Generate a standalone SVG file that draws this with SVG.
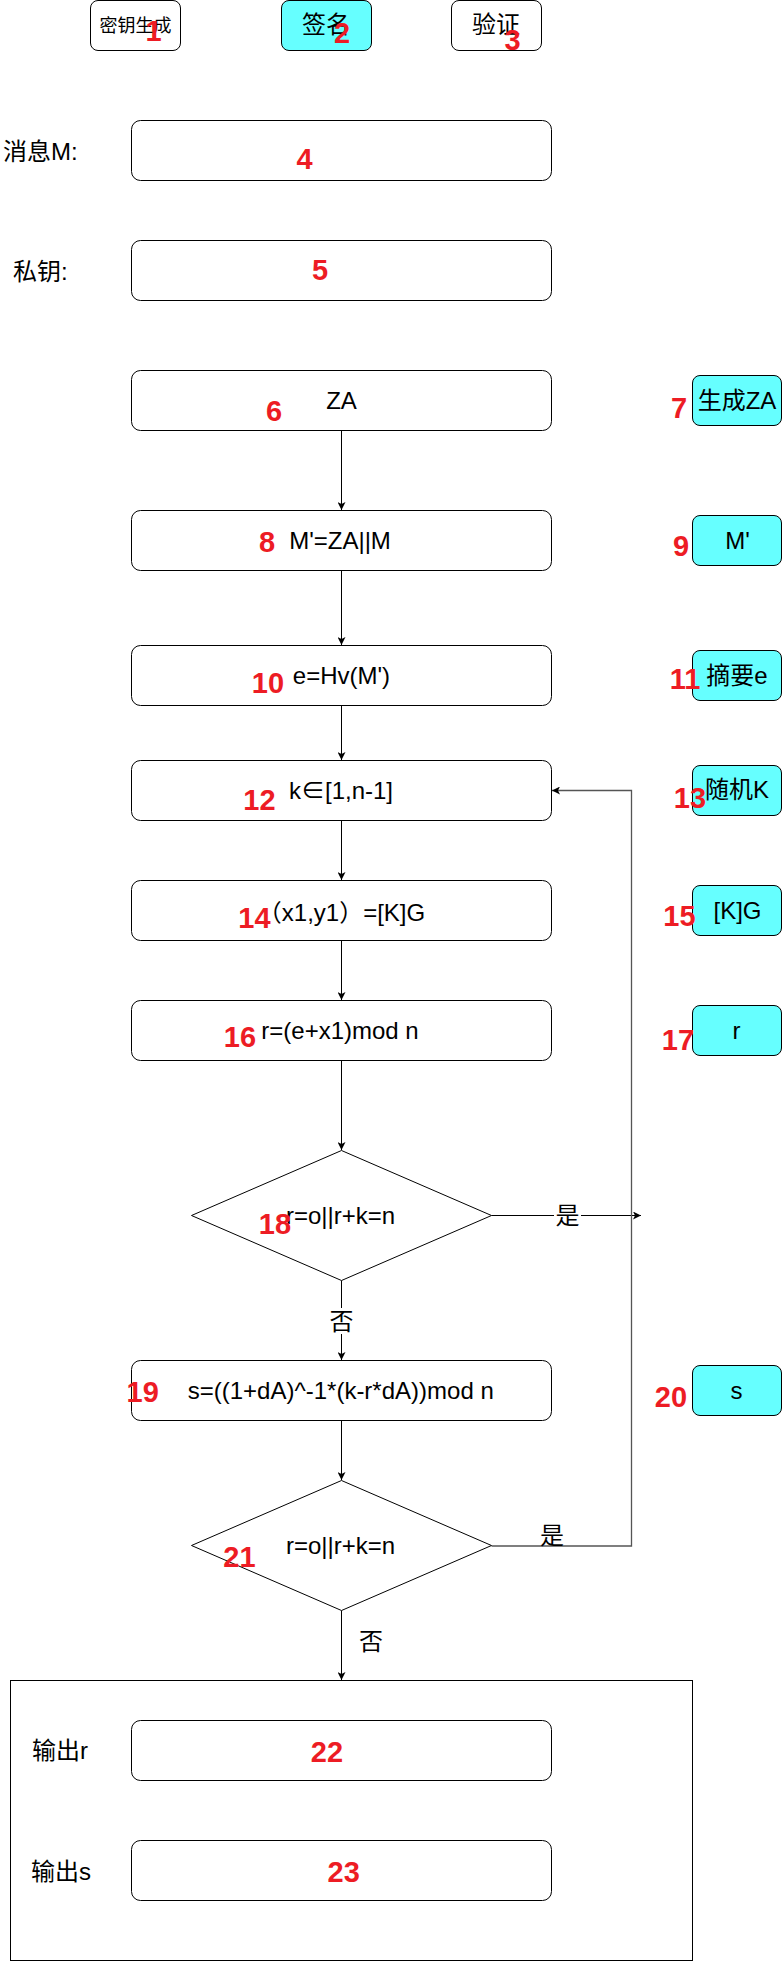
<svg xmlns="http://www.w3.org/2000/svg" width="782" height="1963" viewBox="0 0 782 1963">
<style>
.box{fill:#fff;stroke:#000;stroke-width:1}
.cy{fill:#66FFFF;stroke:#000;stroke-width:1}
.t{font-family:"Liberation Sans","Noto Sans CJK SC",sans-serif;font-size:24px;fill:#000;text-anchor:middle}
.ts{font-family:"Liberation Sans","Noto Sans CJK SC",sans-serif;font-size:18px;fill:#000;text-anchor:middle}
.lab{font-family:"Liberation Sans","Noto Sans CJK SC",sans-serif;font-size:24px;fill:#000;text-anchor:start}
.n{font-family:"Liberation Sans",sans-serif;font-weight:bold;font-size:29px;fill:#ED1C24;text-anchor:middle}
.c{fill:none;stroke:#000;stroke-width:1}
.loop{fill:none;stroke:#555;stroke-width:1.3}
</style>
<defs>
<marker id="ah" markerUnits="userSpaceOnUse" viewBox="0 0 8 8" refX="8" refY="4" markerWidth="8" markerHeight="8" orient="auto">
<path d="M0,0 L8,4 L0,8 L2,4 Z" fill="#000"/>
</marker>
</defs>
<rect width="782" height="1963" fill="#fff"/>

<g id="tab-keygen"><rect class="box" x="90.5" y="0.5" width="90" height="50" rx="7.5"/><text class="ts" x="135.5" y="31.5">密钥生成</text></g>
<g id="tab-sign"><rect class="cy" x="281.5" y="0.5" width="90" height="50" rx="7.5"/><text class="t" x="326" y="33">签名</text></g>
<g id="tab-verify"><rect class="box" x="451.5" y="0.5" width="90" height="50" rx="7.5"/><text class="t" x="496" y="33">验证</text></g>

<g id="label-msg"><text class="lab" x="3" y="160">消息M:</text></g>
<g id="input-msg"><rect class="box" x="131.5" y="120.5" width="420" height="60" rx="9"/></g>
<g id="label-key"><text class="lab" x="13" y="280">私钥:</text></g>
<g id="input-key"><rect class="box" x="131.5" y="240.5" width="420" height="60" rx="9"/></g>

<g id="connectors">
<path class="c" d="M341.5,430.5 V510" marker-end="url(#ah)"/>
<path class="c" d="M341.5,570.5 V645" marker-end="url(#ah)"/>
<path class="c" d="M341.5,705.5 V760" marker-end="url(#ah)"/>
<path class="c" d="M341.5,820.5 V880" marker-end="url(#ah)"/>
<path class="c" d="M341.5,940.5 V1000" marker-end="url(#ah)"/>
<path class="c" d="M341.5,1060.5 V1150" marker-end="url(#ah)"/>
<path class="c" d="M341.5,1280.5 V1360" marker-end="url(#ah)"/>
<path class="c" d="M341.5,1420.5 V1480" marker-end="url(#ah)"/>
<path class="c" d="M341.5,1610.5 V1680" marker-end="url(#ah)"/>
<path class="c" d="M491.5,1215.5 H641" marker-end="url(#ah)"/>
<path class="loop" d="M491.5,1546 H631.5 V790.5 H552" marker-end="url(#ah)"/>
<rect x="554" y="1203" width="27" height="26" fill="#fff"/>
<text class="t" x="567.5" y="1224">是</text>
<rect x="328" y="1308" width="27" height="26" fill="#fff"/>
<text class="t" x="341.5" y="1329.5">否</text>
<text class="t" x="552" y="1544">是</text>
<text class="t" x="371" y="1650">否</text>
</g>

<g id="step-za"><rect class="box" x="131.5" y="370.5" width="420" height="60" rx="9"/><text class="t" x="341.5" y="408.5">ZA</text></g>
<g id="tag-za"><rect class="cy" x="692.5" y="375.5" width="89" height="50" rx="7.5"/><text class="t" x="737" y="408.5">生成ZA</text></g>
<g id="step-m"><rect class="box" x="131.5" y="510.5" width="420" height="60" rx="9"/><text class="t" x="340" y="549">M'=ZA||M</text></g>
<g id="tag-m"><rect class="cy" x="692.5" y="515.5" width="89" height="50" rx="7.5"/><text class="t" x="737.5" y="549">M'</text></g>
<g id="step-e"><rect class="box" x="131.5" y="645.5" width="420" height="60" rx="9"/><text class="t" x="341.5" y="683.5">e=Hv(M')</text></g>
<g id="tag-e"><rect class="cy" x="692.5" y="650.5" width="89" height="50" rx="7.5"/><text class="t" x="737" y="684">摘要e</text></g>
<g id="step-k"><rect class="box" x="131.5" y="760.5" width="420" height="60" rx="9"/><text class="t" x="341" y="798.5">k∈[1,n-1]</text></g>
<g id="tag-k"><rect class="cy" x="692.5" y="765.5" width="89" height="50" rx="7.5"/><text class="t" x="737" y="798">随机K</text></g>
<g id="step-kg"><rect class="box" x="131.5" y="880.5" width="420" height="60" rx="9"/><text class="t" x="341.5" y="920.5">（x1,y1）=[K]G</text></g>
<g id="tag-kg"><rect class="cy" x="692.5" y="885.5" width="89" height="50" rx="7.5"/><text class="t" x="737.5" y="918.5">[K]G</text></g>
<g id="step-r"><rect class="box" x="131.5" y="1000.5" width="420" height="60" rx="9"/><text class="t" x="340" y="1038.5">r=(e+x1)mod n</text></g>
<g id="tag-r"><rect class="cy" x="692.5" y="1005.5" width="89" height="50" rx="7.5"/><text class="t" x="736.5" y="1038.5">r</text></g>
<g id="check-1"><polygon class="box" points="341.5,1150.5 491.5,1215.5 341.5,1280.5 191.5,1215.5"/><text class="t" x="340.5" y="1224">r=o||r+k=n</text></g>
<g id="step-s"><rect class="box" x="131.5" y="1360.5" width="420" height="60" rx="9"/><text class="t" x="340.75" y="1399">s=((1+dA)^-1*(k-r*dA))mod n</text></g>
<g id="tag-s"><rect class="cy" x="692.5" y="1365.5" width="89" height="50" rx="7.5"/><text class="t" x="736.5" y="1399">s</text></g>
<g id="check-2"><polygon class="box" points="341.5,1480.5 491.5,1545.5 341.5,1610.5 191.5,1545.5"/><text class="t" x="340.5" y="1554">r=o||r+k=n</text></g>

<g id="output"><rect x="10.5" y="1680.5" width="682" height="280" fill="none" stroke="#000"/></g>
<g id="label-out-r"><text class="lab" x="32" y="1759">输出r</text></g>
<g id="out-r"><rect class="box" x="131.5" y="1720.5" width="420" height="60" rx="9"/></g>
<g id="label-out-s"><text class="lab" x="31" y="1879.5">输出s</text></g>
<g id="out-s"><rect class="box" x="131.5" y="1840.5" width="420" height="60" rx="9"/></g>

<g id="numbers">
<text class="n" x="153.5" y="41">1</text>
<text class="n" x="342" y="43.3">2</text>
<text class="n" x="512.5" y="50">3</text>
<text class="n" x="304.5" y="169">4</text>
<text class="n" x="320" y="280">5</text>
<text class="n" x="274" y="420.7">6</text>
<text class="n" x="679" y="417.7">7</text>
<text class="n" x="267" y="552">8</text>
<text class="n" x="681" y="555.7">9</text>
<text class="n" x="268" y="693.3">10</text>
<text class="n" x="685" y="689.3">11</text>
<text class="n" x="259.5" y="810">12</text>
<text class="n" x="690" y="808">13</text>
<text class="n" x="254.5" y="928.3">14</text>
<text class="n" x="679.5" y="925.7">15</text>
<text class="n" x="240" y="1047.3">16</text>
<text class="n" x="678" y="1050">17</text>
<text class="n" x="275" y="1234">18</text>
<text class="n" x="142.75" y="1401.7">19</text>
<text class="n" x="671" y="1406.7">20</text>
<text class="n" x="239.5" y="1566.7">21</text>
<text class="n" x="327" y="1762">22</text>
<text class="n" x="343.75" y="1882.3">23</text>
</g>
</svg>
